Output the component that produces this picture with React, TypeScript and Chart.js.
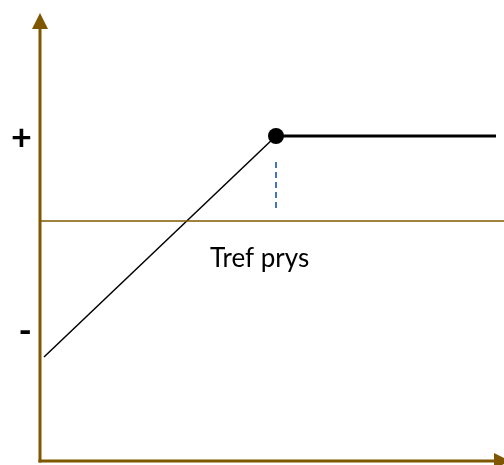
import React, { useEffect, useRef } from "react";
import { Chart, registerables } from "chart.js";

Chart.register(...registerables);

// Data (x: 0..464, y: 0..448 units)
const rampX = [4, 236];
const rampY = [104, 325];
const flatX = [236, 456];
const flatY = [325, 325];
const kinkPoint = [{ x: 236, y: 325 }];
const dashX = [236, 236];
const dashY = [299, 252];
const refX = [0, 464];
const refY = [240, 240];
const yLabels = [
  { value: 323, text: "+" },
  { value: 130, text: "-" },
];
const refLabel = { x: 170, y: 194, text: "Tref prys" };

const BROWN = "#7f5700";

const toPts = (xs: number[], ys: number[]) => xs.map((x, i) => ({ x, y: ys[i] }));

const axesPlugin = {
  id: "axesArrows",
  afterDraw(chart: any) {
    const { ctx, chartArea, scales } = chart;
    const x0 = chartArea.left;
    const y0 = chartArea.bottom;
    ctx.save();
    ctx.strokeStyle = BROWN;
    ctx.fillStyle = BROWN;
    ctx.lineWidth = 3;
    // vertical axis
    ctx.beginPath();
    ctx.moveTo(x0, y0 + 1.5);
    ctx.lineTo(x0, chartArea.top + 14);
    ctx.stroke();
    ctx.beginPath();
    ctx.moveTo(x0, chartArea.top);
    ctx.lineTo(x0 - 8, chartArea.top + 16);
    ctx.lineTo(x0 + 8, chartArea.top + 16);
    ctx.closePath();
    ctx.fill();
    // horizontal axis
    ctx.beginPath();
    ctx.moveTo(x0 - 1.5, y0);
    ctx.lineTo(chartArea.right - 10, y0);
    ctx.stroke();
    ctx.beginPath();
    ctx.moveTo(chartArea.right + 6, y0);
    ctx.lineTo(chartArea.right - 10, y0 - 8);
    ctx.lineTo(chartArea.right - 10, y0 + 8);
    ctx.closePath();
    ctx.fill();
    // labels
    ctx.fillStyle = "#000";
    ctx.font = "bold 36px Lato";
    ctx.textAlign = "right";
    ctx.textBaseline = "middle";
    for (const l of yLabels) {
      ctx.fillText(l.text, x0 - 8, scales.y.getPixelForValue(l.value));
    }
    ctx.font = "26px Lato";
    ctx.textAlign = "left";
    ctx.textBaseline = "alphabetic";
    ctx.fillText(
      refLabel.text,
      scales.x.getPixelForValue(refLabel.x),
      scales.y.getPixelForValue(refLabel.y)
    );
    ctx.restore();
  },
};

export default function App() {
  const ref = useRef<HTMLCanvasElement>(null);
  useEffect(() => {
    document.body.style.margin = "0";
    const chart = new Chart(ref.current!, {
      type: "scatter",
      data: {
        datasets: [
          {
            data: toPts(refX, refY),
            showLine: true,
            borderColor: BROWN,
            borderWidth: 1.5,
            pointRadius: 0,
          },
          {
            data: toPts(dashX, dashY),
            showLine: true,
            borderColor: "#4472c4",
            borderWidth: 2,
            borderDash: [6, 4],
            pointRadius: 0,
          },
          {
            data: toPts(rampX, rampY),
            showLine: true,
            borderColor: "#000",
            borderWidth: 1.5,
            pointRadius: 0,
          },
          {
            data: toPts(flatX, flatY),
            showLine: true,
            borderColor: "#000",
            borderWidth: 3,
            pointRadius: 0,
          },
          {
            data: kinkPoint,
            pointRadius: 8,
            pointBackgroundColor: "#000",
            pointBorderColor: "#000",
            borderWidth: 0,
          },
        ],
      },
      options: {
        animation: false,
        responsive: true,
        maintainAspectRatio: false,
        layout: { autoPadding: false, padding: { left: 40, right: 0, top: 13, bottom: 4 } },
        plugins: { legend: { display: false }, tooltip: { enabled: false } },
        scales: {
          x: { type: "linear", min: 0, max: 464, display: false },
          y: { type: "linear", min: 0, max: 448, display: false },
        },
        clip: false as any,
      },
      plugins: [axesPlugin],
    });
    return () => chart.destroy();
  }, []);
  return (
    <div style={{ position: "relative", width: 504, height: 465 }}>
      <canvas ref={ref} />
    </div>
  );
}
